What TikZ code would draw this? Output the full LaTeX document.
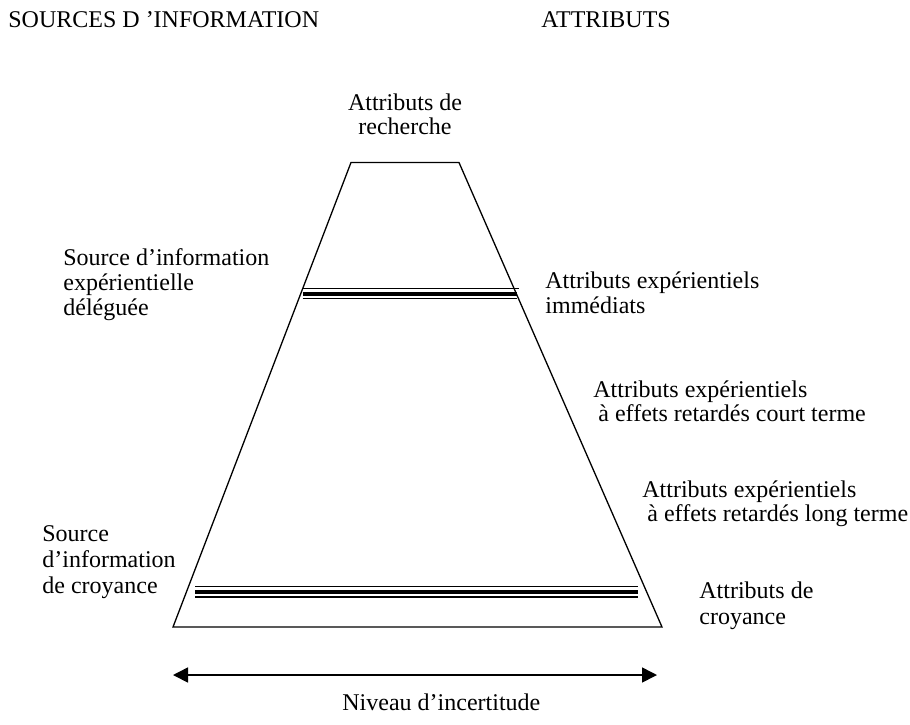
\documentclass[tikz,border=0pt]{standalone}
\usepackage{fontspec}
\setmainfont{Liberation Serif}
\usetikzlibrary{arrows.meta}
\begin{document}
\begin{tikzpicture}[x=0.5pt,y=-0.5pt,
  lbl/.style={anchor=base west,inner sep=0pt,font=\fontsize{12pt}{12pt}\selectfont},
  clbl/.style={anchor=base,inner sep=0pt,font=\fontsize{12pt}{12pt}\selectfont},
  edge/.style={line width=0.65pt,line join=miter},
  thinbar/.style={line width=0.6pt},
  thickbar/.style={line width=2.4pt},
  axis/.style={line width=0.8pt,{Triangle[length=7.5pt,width=7.5pt]}-{Triangle[length=7.5pt,width=7.5pt]}}]
\useasboundingbox (0,0) rectangle (910,724);
% trapezoid
\coordinate (tl) at (351,162.5);
\coordinate (tr) at (459,162.5);
\coordinate (br) at (662,627);
\coordinate (bl) at (173,627);
\draw[edge] (tl) -- (tr) -- (br) -- (bl) -- cycle;
% upper triple bar
\coordinate (u1a) at (302.5,288.5); \coordinate (u1b) at (519,288.5);
\coordinate (u2a) at (302.5,294);   \coordinate (u2b) at (517,294);
\coordinate (u3a) at (302.5,298.5); \coordinate (u3b) at (517,298.5);
\draw[thinbar] (u1a) -- (u1b);
\draw[thickbar] (u2a) -- (u2b);
\draw[thinbar] (u3a) -- (u3b);
% lower triple bar
\coordinate (l1a) at (195,586.8); \coordinate (l1b) at (638,586.8);
\coordinate (l2a) at (195,592);   \coordinate (l2b) at (638,592);
\coordinate (l3a) at (195,597);   \coordinate (l3b) at (638,597);
\draw[thinbar] (l1a) -- (l1b);
\draw[thickbar] (l2a) -- (l2b);
\draw[thinbar] (l3a) -- (l3b);
% axis arrow
\coordinate (arL) at (173,675);
\coordinate (arR) at (657,675);
\draw[axis] (arL) -- (arR);
% headers
\node[lbl] (hsrc) at (8,27) {SOURCES D ’INFORMATION};
\node[lbl] (hatt) at (541,27) {ATTRIBUTS};
% top
\node[clbl] (rech1) at (405,110) {Attributs de};
\node[clbl] (rech2) at (405,134) {recherche};
% left group 1
\node[lbl] (sd1) at (63,265) {Source d’information};
\node[lbl] (sd2) at (63,290) {expérientielle};
\node[lbl] (sd3) at (63,315) {déléguée};
% right group immediate
\node[lbl] (im1) at (545,288) {Attributs expérientiels};
\node[lbl] (im2) at (545,313) {immédiats};
% short term
\node[lbl] (ct1) at (593,397) {Attributs expérientiels};
\node[lbl] (ct2) at (598,421) {à effets retardés court terme};
% long term
\node[lbl] (lt1) at (642,497) {Attributs expérientiels};
\node[lbl] (lt2) at (647,521) {à effets retardés long terme};
% left group 2
\node[lbl] (sc1) at (42,541) {Source};
\node[lbl] (sc2) at (42,567) {d’information};
\node[lbl] (sc3) at (42,593) {de croyance};
% belief
\node[lbl] (cr1) at (699,598) {Attributs de};
\node[lbl] (cr2) at (699,624) {croyance};
% axis label
\node[lbl] (niv) at (342,710) {Niveau d’incertitude};
\end{tikzpicture}
\end{document}
